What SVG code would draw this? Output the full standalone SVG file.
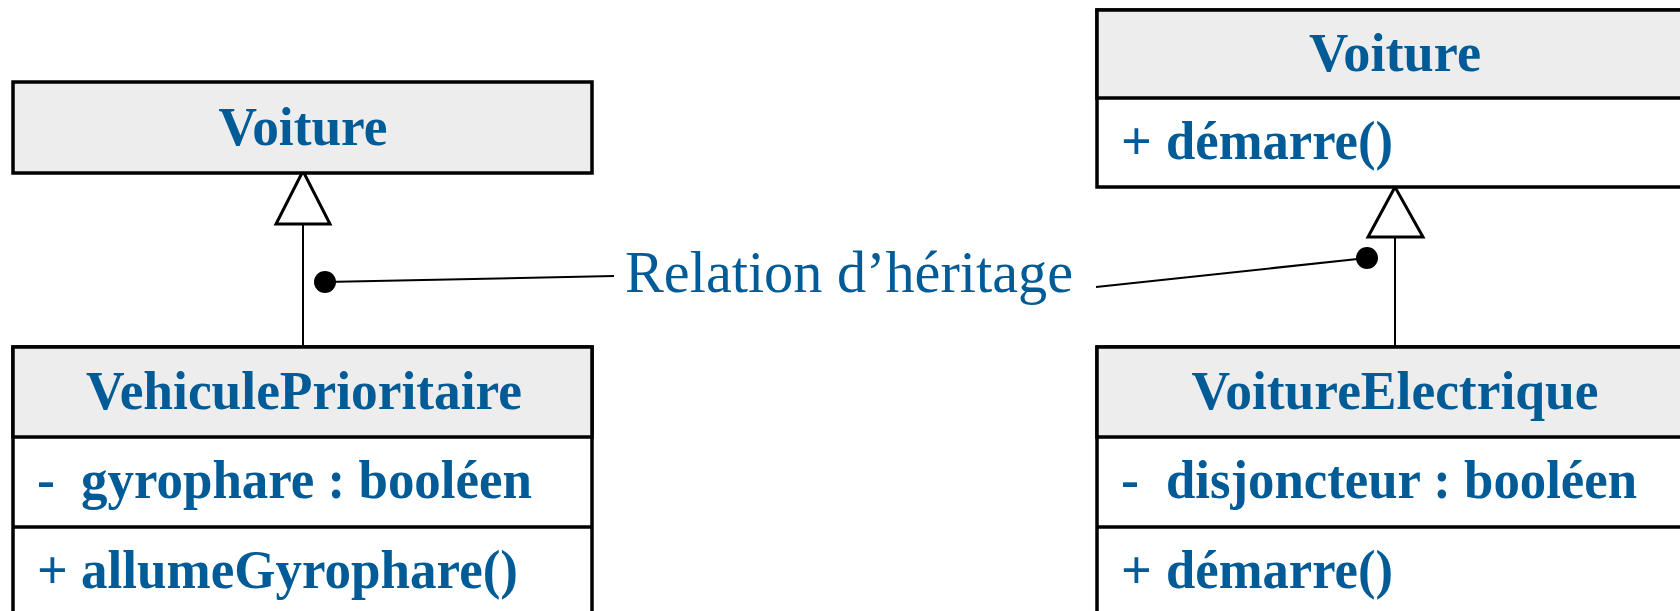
<svg xmlns="http://www.w3.org/2000/svg" width="1680" height="611" viewBox="0 0 1680 611">
<style>
.box{fill:#ffffff;stroke:#000;stroke-width:3.5}
.hdr{fill:#ededed;stroke:#000;stroke-width:3.5}
.div{stroke:#000;stroke-width:3.5}
.t{font-family:"Liberation Serif","Times New Roman",serif;font-weight:bold;font-size:54px;fill:#005b96}
.c{text-anchor:middle}
.lbl{font-family:"Liberation Serif","Times New Roman",serif;font-size:59px;fill:#005b96}
.ln{stroke:#000;stroke-width:2;fill:none}
.tri{fill:#fff;stroke:#000;stroke-width:3}
</style>
<rect width="1680" height="611" fill="#fff"/>
<g id="connectors">
  <line class="ln" x1="303" y1="224" x2="303" y2="347"/>
  <polygon class="tri" points="303,171 276,224 330,224"/>
  <line class="ln" x1="1395" y1="237" x2="1395" y2="347"/>
  <polygon class="tri" points="1395,187 1368,237 1423,237"/>
  <line class="ln" x1="325" y1="282" x2="614" y2="276"/>
  <circle cx="325" cy="282" r="11" fill="#000"/>
  <line class="ln" x1="1096" y1="287" x2="1367" y2="258"/>
  <circle cx="1367" cy="258" r="11" fill="#000"/>
  <text class="lbl" x="625" y="292" textLength="448" lengthAdjust="spacingAndGlyphs">Relation d’héritage</text>
</g>
<g id="voiture-left">
  <rect class="hdr" x="13" y="82" width="579" height="91"/>
  <text class="t c" x="303" y="145" textLength="169" lengthAdjust="spacingAndGlyphs">Voiture</text>
</g>
<g id="vehicule-prioritaire">
  <rect class="box" x="13" y="347" width="579" height="290"/>
  <rect class="hdr" x="13" y="347" width="579" height="90"/>
  <line class="div" x1="13" y1="527" x2="592" y2="527"/>
  <text class="t c" x="304" y="409" textLength="436" lengthAdjust="spacingAndGlyphs">VehiculePrioritaire</text>
  <text class="t" y="498"><tspan x="37">-</tspan><tspan x="81" textLength="451" lengthAdjust="spacingAndGlyphs">gyrophare : booléen</tspan></text>
  <text class="t" y="588"><tspan x="37">+</tspan><tspan x="81" textLength="437" lengthAdjust="spacingAndGlyphs">allumeGyrophare()</tspan></text>
</g>
<g id="voiture-right">
  <rect class="box" x="1097" y="10" width="596" height="177"/>
  <rect class="hdr" x="1097" y="10" width="596" height="88"/>
  <text class="t c" x="1395" y="71" textLength="172" lengthAdjust="spacingAndGlyphs">Voiture</text>
  <text class="t" y="159"><tspan x="1121">+</tspan><tspan x="1166" textLength="227" lengthAdjust="spacingAndGlyphs">démarre()</tspan></text>
</g>
<g id="voiture-electrique">
  <rect class="box" x="1097" y="347" width="596" height="290"/>
  <rect class="hdr" x="1097" y="347" width="596" height="90"/>
  <line class="div" x1="1097" y1="527" x2="1693" y2="527"/>
  <text class="t c" x="1395" y="409" textLength="407" lengthAdjust="spacingAndGlyphs">VoitureElectrique</text>
  <text class="t" y="498"><tspan x="1121">-</tspan><tspan x="1166" textLength="471" lengthAdjust="spacingAndGlyphs">disjoncteur : booléen</tspan></text>
  <text class="t" y="588"><tspan x="1121">+</tspan><tspan x="1166" textLength="227" lengthAdjust="spacingAndGlyphs">démarre()</tspan></text>
</g>
</svg>
